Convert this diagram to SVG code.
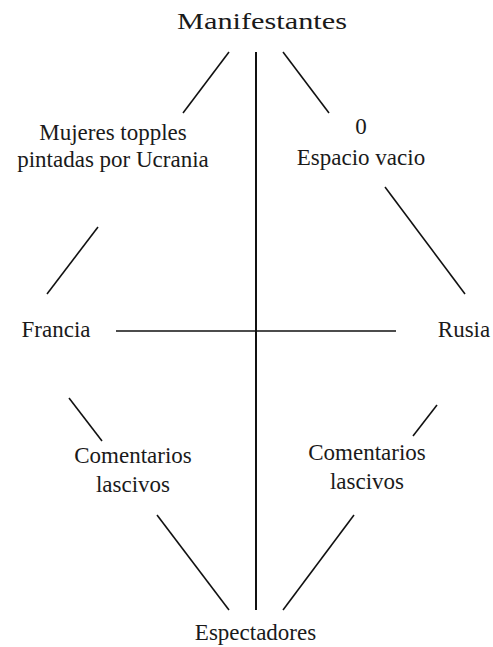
<svg xmlns="http://www.w3.org/2000/svg" width="493" height="647" viewBox="0 0 493 647">
<style>
text{font-family:"Liberation Serif","Times New Roman",serif;fill:#1a1a1a;text-anchor:middle;font-size:23px}
line{stroke:#111;stroke-width:1.6}
.v{stroke-width:2}
</style>
<rect width="493" height="647" fill="#fff"/>
<g id="connectors">
<line class="v" x1="256" y1="52" x2="256" y2="610"/>
<line x1="116" y1="331" x2="396" y2="331"/>
<line x1="229" y1="52" x2="183" y2="113"/>
<line x1="283" y1="52" x2="329" y2="113"/>
<line x1="98" y1="227" x2="47" y2="294"/>
<line x1="385" y1="187" x2="465" y2="294"/>
<line x1="69" y1="398" x2="102" y2="441"/>
<line x1="437" y1="405" x2="413" y2="436"/>
<line x1="157" y1="515" x2="229" y2="610"/>
<line x1="354" y1="515" x2="283" y2="610"/>
</g>
<g id="manifestantes"><text x="262" y="29" font-size="26" textLength="170" lengthAdjust="spacingAndGlyphs">Manifestantes</text></g>
<g id="mujeres"><text x="113" y="140">Mujeres topples</text><text x="113" y="167">pintadas por Ucrania</text></g>
<g id="espacio"><text x="361" y="134">0</text><text x="361" y="165">Espacio vacio</text></g>
<g id="francia"><text x="56" y="337">Francia</text></g>
<g id="rusia"><text x="464" y="337">Rusia</text></g>
<g id="comentarios-izq"><text x="133" y="463">Comentarios</text><text x="133" y="492">lascivos</text></g>
<g id="comentarios-der"><text x="367" y="460">Comentarios</text><text x="367" y="489">lascivos</text></g>
<g id="espectadores"><text x="255.5" y="640">Espectadores</text></g>
</svg>
